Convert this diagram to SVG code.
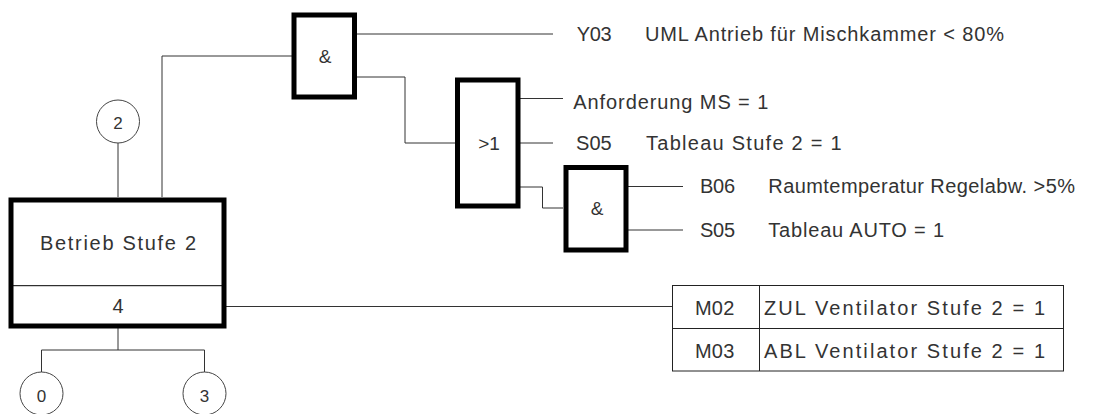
<svg xmlns="http://www.w3.org/2000/svg" width="1111" height="414" viewBox="0 0 1111 414">
<style>
.box{fill:#fff;stroke:#000;stroke-width:5}
.thin{fill:none;stroke:#333;stroke-width:1}
.circ{fill:#fff;stroke:#444;stroke-width:1}
text{font-family:"Liberation Sans",Arial,sans-serif;fill:#333;font-size:20px}
.c{text-anchor:middle}
.s{font-size:17px}
.g{font-size:19px}
</style>
<rect width="1111" height="414" fill="#fff"/>
<g id="connectors" class="thin">
<polyline points="162,197 162,56 292,56"/>
<line x1="118" y1="143" x2="118" y2="197"/>
<line x1="357" y1="34" x2="553" y2="34"/>
<polyline points="357,77 405,77 405,143 455,143"/>
<line x1="520" y1="98.5" x2="563" y2="98.5"/>
<line x1="520" y1="143" x2="553" y2="143"/>
<polyline points="520,187 542.5,187 542.5,208 563,208"/>
<line x1="628" y1="186.5" x2="683" y2="186.5"/>
<line x1="628" y1="230" x2="683" y2="230"/>
<line x1="226" y1="306.5" x2="672.5" y2="306.5"/>
<polyline points="118,328 118,350"/>
<polyline points="41.5,372 41.5,350 204.5,350 204.5,372"/>
</g>
<g id="gate-and-1">
<rect class="box" x="294" y="15" width="60.5" height="82"/>
<text class="c g" x="325" y="63">&amp;</text>
</g>
<g id="gate-or">
<rect class="box" x="457.5" y="80" width="60.5" height="126"/>
<text class="c g" x="489" y="150">&gt;1</text>
</g>
<g id="gate-and-2">
<rect class="box" x="566" y="167.5" width="60" height="82.5"/>
<text class="c g" x="597" y="215">&amp;</text>
</g>
<g id="state-box">
<rect class="box" x="11" y="200" width="213" height="126"/>
<line x1="13" y1="285.7" x2="222" y2="285.7" stroke="#000" stroke-width="1"/>
<text x="40" y="250" textLength="156" lengthAdjust="spacing">Betrieb Stufe 2</text>
<text class="c" x="118" y="313">4</text>
</g>
<g id="circle-2">
<circle class="circ" cx="118" cy="121.5" r="21.5"/>
<text class="c s" x="118" y="128.5">2</text>
</g>
<g id="circle-0">
<circle class="circ" cx="41.5" cy="393.5" r="21.5"/>
<text class="c s" x="41.5" y="401.5">0</text>
</g>
<g id="circle-3">
<circle class="circ" cx="204.5" cy="393.5" r="21.5"/>
<text class="c s" x="204.5" y="401.5">3</text>
</g>
<g id="label-y03">
<text x="576.7" y="40.7" textLength="35" lengthAdjust="spacing">Y03</text>
<text x="645" y="40.7" textLength="359" lengthAdjust="spacing">UML Antrieb für Mischkammer &lt; 80%</text>
</g>
<g id="label-ms">
<text x="573.3" y="109" textLength="195" lengthAdjust="spacing">Anforderung MS = 1</text>
</g>
<g id="label-s05-stufe">
<text x="576" y="150" textLength="35.7" lengthAdjust="spacing">S05</text>
<text x="646" y="150" textLength="195.7" lengthAdjust="spacing">Tableau Stufe 2 = 1</text>
</g>
<g id="label-b06">
<text x="700" y="193.3" textLength="35" lengthAdjust="spacing">B06</text>
<text x="768.3" y="193.3" textLength="306.7" lengthAdjust="spacing">Raumtemperatur Regelabw. &gt;5%</text>
</g>
<g id="label-s05-auto">
<text x="700" y="237.3" textLength="35" lengthAdjust="spacing">S05</text>
<text x="768.3" y="237.3" textLength="175.7" lengthAdjust="spacing">Tableau AUTO = 1</text>
</g>
<g id="output-table">
<rect x="672.5" y="285.5" width="391" height="85.5" fill="#fff" stroke="#222" stroke-width="1"/>
<line x1="672.5" y1="328.5" x2="1063.5" y2="328.5" stroke="#222" stroke-width="1"/>
<line x1="759.5" y1="285.5" x2="759.5" y2="371" stroke="#222" stroke-width="1"/>
<text x="695" y="315" textLength="39.3" lengthAdjust="spacing">M02</text>
<text x="764" y="315" textLength="281" lengthAdjust="spacing">ZUL Ventilator Stufe 2 = 1</text>
<text x="695" y="358" textLength="39.3" lengthAdjust="spacing">M03</text>
<text x="764" y="358" textLength="281" lengthAdjust="spacing">ABL Ventilator Stufe 2 = 1</text>
</g>
</svg>
